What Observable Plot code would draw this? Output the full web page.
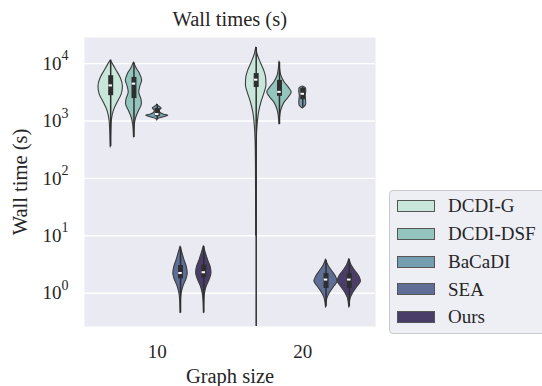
<!DOCTYPE html>
<html><head><meta charset="utf-8">
<script src="https://cdn.jsdelivr.net/npm/d3@7"></script>
<script src="https://cdn.jsdelivr.net/npm/@observablehq/plot@0.6"></script>
<style>
html,body{margin:0;padding:0;background:#fff;}
#wrap{position:relative;width:542px;height:386px;overflow:hidden;font-family:"Liberation Serif","DejaVu Serif",serif;color:#262626;}
#title{position:absolute;left:0;width:459.5px;top:8px;text-align:center;font-size:20.5px;line-height:22px;white-space:nowrap;}
#chart{position:absolute;left:0;top:0;}
#legend{position:absolute;left:389px;top:190px;width:170px;height:144px;border:1px solid #cbcbcb;border-radius:4px;background:#eeeef5;box-sizing:border-box;}
.sw{position:absolute;left:7px;width:38px;height:12px;border:1px solid #555;box-sizing:border-box;}
.lab{position:absolute;left:58px;font-size:19px;line-height:19px;white-space:nowrap;}
</style>
</head><body>
<div id="wrap">
  <div id="chart"></div>
  <div id="title">Wall times (s)</div>
  <div id="legend"></div>
</div>
<script>
const groups = ["10", "20"];
const methods = ["DCDI-G", "DCDI-DSF", "BaCaDI", "SEA", "Ours"];
const colors = ["#c8e6da", "#93c4be", "#749eb0", "#5e6e96", "#4a3e69"];
const yTicks = [1, 10, 100, 1000, 10000];

// inner box statistics (seconds); order: group 10 (5 methods), then group 20 (5 methods)
const whiskerLow  = [360,   515,   1060, 0.45, 0.45,   0.1,   870,   1730, 0.58, 0.58];
const q1          = [2760,  2460,  1190, 1.78, 1.85,   3830,  2690,  2350, 1.21, 1.21];
const median      = [4170,  4480,  1320, 2.25, 2.32,   5250,  3220,  2980, 1.73, 1.73];
const q3          = [6150,  5750,  1650, 3.04, 3.1,    6700,  5100,  3700, 2.2,  2.2];
const whiskerHigh = [11500, 10200, 1940, 6.3,  6.5,    19000, 10500, 3850, 3.7,  3.8];

// violin outlines: [seconds, relative half-width], group 10
const outlines10 = [
  [[11300,0],[9700,0.2],[7600,0.5],[5500,0.88],[4000,1.05],[2900,0.95],[2100,0.6],[1520,0.28],[1100,0.12],[740,0.05],[460,0.02],[345,0]],
  [[10500,0],[8500,0.2],[6700,0.5],[5100,0.7],[4000,0.55],[3150,0.45],[2350,0.65],[1950,0.68],[1520,0.45],[1150,0.2],[830,0.06],[515,0]],
  [[1940,0],[1790,0.15],[1650,0.38],[1520,0.22],[1410,0.25],[1290,0.6],[1230,0.95],[1150,0.5],[1080,0.08],[1020,0]],
  [[6.5,0],[5.1,0.15],[3.7,0.35],[2.8,0.55],[2.2,0.62],[1.73,0.5],[1.31,0.25],[0.95,0.08],[0.66,0.02],[0.45,0]],
  [[6.6,0],[5.1,0.16],[3.7,0.38],[2.8,0.6],[2.25,0.66],[1.75,0.52],[1.31,0.25],[0.95,0.08],[0.66,0.02],[0.45,0]]
];
// group 20
const outlines20 = [
  [[19000,0],[14400,0.12],[10500,0.38],[7600,0.68],[5500,0.86],[4150,0.88],[3000,0.7],[2100,0.45],[1410,0.25],[830,0.12],[460,0.05],[167,0.02],[41,0.01],[10,0]],
  [[10900,0],[8300,0.05],[6200,0.15],[4700,0.45],[3700,0.85],[3150,1.05],[2570,0.8],[2030,0.4],[1520,0.15],[1100,0.04],[870,0]],
  [[3990,0],[3700,0.28],[3250,0.3],[2760,0.25],[2350,0.28],[2000,0.3],[1780,0.2],[1650,0]],
  [[3.87,0],[3.03,0.2],[2.39,0.55],[1.88,0.88],[1.6,1.0],[1.31,0.72],[1.02,0.35],[0.81,0.12],[0.66,0.04],[0.56,0]],
  [[3.95,0],[3.03,0.2],[2.39,0.55],[1.88,0.9],[1.6,1.0],[1.31,0.72],[1.02,0.35],[0.81,0.12],[0.66,0.04],[0.56,0]]
];

const slot = 0.16;       // seaborn width 0.8 / 5 hues
const half = slot / 2;
const center = (g, m) => g + (m - 2) * slot;

const violinRows = [];
[outlines10, outlines20].forEach((outs, g) => {
  outs.forEach((pts, m) => {
    pts.forEach(([v, w]) => {
      const c = center(g, m);
      violinRows.push({id: g * 5 + m, method: methods[m], v, xl: c - w * half, xr: c + w * half});
    });
  });
});
const stats = [];
for (let g = 0; g < 2; g++) for (let m = 0; m < 5; m++) {
  const i = g * 5 + m;
  stats.push({c: center(g, m), lo: whiskerLow[i], q1: q1[i], med: median[i], q3: q3[i], hi: whiskerHigh[i]});
}

const chart = Plot.plot({
  width: 542, height: 386,
  marginTop: 37, marginBottom: 60, marginLeft: 84, marginRight: 167,
  style: {fontFamily: '"Liberation Serif", "DejaVu Serif", serif', fontSize: "19px", color: "#262626", background: "transparent", overflow: "visible"},
  x: {type: "linear", domain: [-0.5, 1.5], ticks: [0, 1], tickFormat: i => groups[i], tickSize: 0, tickPadding: 18,
      label: "Graph size", labelAnchor: "center", labelArrow: "none", labelOffset: 56},
  y: {type: "log", domain: [0.263, 28500], ticks: yTicks, tickFormat: d => "10^" + Math.round(Math.log10(d)), tickSize: 0, tickPadding: 16,
      label: "Wall time (s)", labelAnchor: "center", labelArrow: "none", labelOffset: 72},
  color: {domain: methods, range: colors},
  marks: [
    Plot.frame({fill: "#eaeaf2", stroke: null}),
    Plot.gridY(yTicks, {stroke: "#ffffff", strokeOpacity: 1, strokeWidth: 1.4}),
    Plot.areaX(violinRows, {y: "v", x1: "xl", x2: "xr", z: "id", fill: "method", stroke: "#3d3d3d", strokeWidth: 1.1, curve: "monotone-y"}),
    Plot.ruleX(stats, {x: "c", y1: "lo", y2: "hi", stroke: "#2e2e2e", strokeWidth: 1.5, clip: true}),
    Plot.ruleX(stats, {x: "c", y1: "q1", y2: "q3", stroke: "#2e2e2e", strokeWidth: 5}),
    Plot.ruleY(stats, {y: "med", x1: d => d.c - 0.012, x2: d => d.c + 0.012, stroke: "#ffffff", strokeWidth: 2})
  ]
});
document.getElementById("chart").appendChild(chart);

// superscript exponents on y tick labels
chart.querySelectorAll('[aria-label="y-axis tick label"] text').forEach(t => {
  const s = t.textContent;
  const exp = s.split("^")[1];
  t.textContent = "10";
  const ts = document.createElementNS("http://www.w3.org/2000/svg", "tspan");
  ts.setAttribute("dy", "-9.5");
  ts.setAttribute("font-size", "14");
  ts.textContent = exp;
  t.appendChild(ts);
});
chart.querySelectorAll('[aria-label="x-axis label"], [aria-label="y-axis label"]').forEach(g => {
  g.setAttribute("font-size", "20.5");
  g.querySelectorAll("text").forEach(t => t.setAttribute("font-size", "20.5"));
});

// legend
const leg = document.getElementById("legend");
methods.forEach((m, i) => {
  const cy = 15 + i * 27.8;
  const sw = document.createElement("div");
  sw.className = "sw";
  sw.style.top = (cy - 6) + "px";
  sw.style.background = colors[i];
  leg.appendChild(sw);
  const lb = document.createElement("div");
  lb.className = "lab";
  lb.style.top = (cy - 9.9) + "px";
  lb.textContent = m;
  leg.appendChild(lb);
});
</script>
</body></html>
